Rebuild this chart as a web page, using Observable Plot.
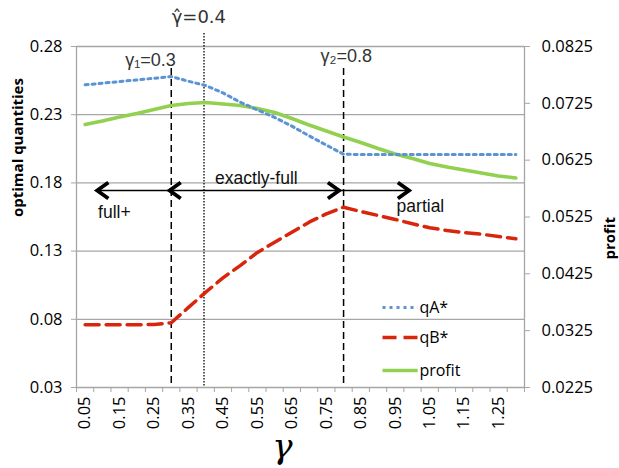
<!DOCTYPE html>
<html><head><meta charset="utf-8">
<script src="https://cdn.jsdelivr.net/npm/d3@7"></script>
<script src="https://cdn.jsdelivr.net/npm/@observablehq/plot@0.6"></script>
<style>
body{margin:0;background:#fff}
#chart{position:relative;width:619px;height:468px}
</style>
</head><body><div id="chart"></div>
<script>
// ---- data ----
const gammas = [0.05,0.10,0.15,0.20,0.25,0.30,0.35,0.40,0.45,0.50,0.55,0.60,0.65,0.70,0.75,0.80,0.85,0.90,0.95,1.00,1.05,1.10,1.15,1.20,1.25,1.30];
const qA = [0.2519,0.2531,0.2543,0.2555,0.2567,0.2580,0.2545,0.2514,0.2460,0.2392,0.2335,0.2280,0.2216,0.2145,0.2077,0.2010,0.2008,0.2008,0.2008,0.2008,0.2008,0.2008,0.2008,0.2008,0.2008,0.2008];
const qB = [0.0760,0.0760,0.0760,0.0760,0.0762,0.0775,0.0887,0.0999,0.1104,0.1194,0.1290,0.1365,0.1439,0.1512,0.1573,0.1622,0.1590,0.1561,0.1532,0.1500,0.1471,0.1451,0.1436,0.1424,0.1407,0.1390];
const profit = [0.06877,0.06939,0.07009,0.07071,0.07141,0.07212,0.07247,0.07265,0.07238,0.07212,0.07159,0.07089,0.06983,0.06869,0.06763,0.06658,0.06561,0.06455,0.06358,0.06279,0.06191,0.06130,0.06077,0.06024,0.05971,0.05936];
const leftTicks = [0.03,0.08,0.13,0.18,0.23,0.28];
const rightTicks = [0.0225,0.0325,0.0425,0.0525,0.0625,0.0725,0.0825];
const xLabels = [0.05,0.15,0.25,0.35,0.45,0.55,0.65,0.75,0.85,0.95,1.05,1.15,1.25];
const xBounds = [0.025,0.075,0.125,0.175,0.225,0.275,0.325,0.375,0.425,0.475,0.525,0.575,0.625,0.675,0.725,0.775,0.825,0.875,0.925,0.975,1.025,1.075,1.125,1.175,1.225,1.275,1.325];
const seriesNames = ["qA*","qB*","profit"];
const thresholds = [0.3, 0.8];
const thresholdLabels = ["γ₁=0.3","γ₂=0.8"];
const hatGamma = 0.395;
const hatLabel = "γ̂=0.4";
const regimeNames = ["full+","exactly-full","partial"];
const regimeCenters = [0.135, 0.547, 1.023];
const regimeY = [0.1583, 0.1832, 0.1627];
const arrowSpan = [0.085, 0.99];
const arrowY = 0.1744;

// ---- scales helpers ----
const yDom = [0.03, 0.28];
const pDom = [0.0225, 0.0825];
const toY = p => yDom[0] + (p - pDom[0]) * (yDom[1]-yDom[0]) / (pDom[1]-pDom[0]);
const fromY = y => pDom[0] + (y - yDom[0]) * (pDom[1]-pDom[0]) / (yDom[1]-yDom[0]);

const colors = {"qA*":"#5b93d3","qB*":"#d8250c","profit":"#92d050"};
const rows = s => gammas.map((g,i)=>({gamma:g, v: s==="qA*"?qA[i]: s==="qB*"?qB[i]: toY(profit[i])}));

const gray = "#a6a6a6";
const chevron = {draw(ctx, size){ const r = Math.sqrt(size/Math.PI); ctx.moveTo(-r*1.4,-r); ctx.lineTo(0,0); ctx.lineTo(-r*1.4,r);} };

const heads = [
  {gamma: arrowSpan[0], angle:180},
  {gamma: 0.295, angle:180},
  {gamma: 0.787, angle:0},
  {gamma: arrowSpan[1], angle:0}
];

const legendY = [0.0886, 0.0667, 0.0425];
const legend = seriesNames.map((s,i)=>({name:s, y:legendY[i]}));

const font = "'Open Sans', 'Noto Sans', sans-serif";
const arial = "'Liberation Sans', Arial, sans-serif";

const chart = Plot.plot({
  width: 619, height: 468,
  marginLeft: 76, marginRight: 95, marginTop: 46, marginBottom: 81,
  style: {fontFamily: font, fontSize: "16px", background:"#fff", color:"#000"},
  x: {domain: [0.025, 1.325], axis: null},
  y: {domain: yDom, axis: null},
  marks: [
    // gridlines
    Plot.ruleY(leftTicks, {stroke: gray, strokeWidth: 1.3}),
    Plot.ruleX([0.025, 1.325], {stroke: gray, strokeWidth: 1.3}),
    // left axis
    Plot.axisY({ticks: leftTicks, tickSize: 5, stroke: gray, text: null, label: null}),
    Plot.axisY({ticks: leftTicks, tickSize: 0, tickPadding: 14, tickFormat: d3.format(".2f"), fontSize: 16.5, fill:"#000", label: null}),
    // right axis
    Plot.axisY({anchor:"right", ticks: rightTicks.map(toY), tickSize: 5, stroke: gray, text: null, label: null}),
    Plot.axisY({anchor:"right", ticks: rightTicks.map(toY), tickSize: 0, tickPadding: 17, tickFormat: d => d3.format(".4f")(fromY(d)), fontSize: 16.5, fill:"#000", label: null}),
    // x axis
    Plot.axisX({ticks: xBounds, tickSize: 5, stroke: gray, text: null, label: null}),
    Plot.axisX({ticks: xLabels, tickSize: 0, tickPadding: 9, tickRotate: -90, tickFormat: d3.format(".2f"), fontSize: 16.5, fill:"#000", label: null}),
    // axis titles
    Plot.text(["optimal quantities"], {frameAnchor: "left", dx: -58, rotate: -90, fontWeight: "bold", fontSize: 15}),
    Plot.text(["profit"], {frameAnchor: "right", dx: 86, rotate: -90, fontWeight: "bold", fontSize: 15}),
    Plot.text(["γ"], {frameAnchor: "bottom", dx: -18, dy: 70, fontSize: 34, fontStyle: "italic", fontFamily: "'DejaVu Serif', serif"}),
    // threshold lines
    Plot.ruleX(thresholds, {y1: 0.2639, y2: 0.03, stroke: "#000", strokeWidth: 1.5, strokeDasharray: "7,4"}),
    Plot.ruleX([hatGamma], {y1: 0.2895, y2: 0.03, stroke: "#000", strokeWidth: 1.3, strokeDasharray: "1.5,1.5"}),
    Plot.text(thresholdLabels, {x: (d,i)=>[0.2398,0.808][i], y: (d,i)=>[0.2697,0.2727][i], fontSize: 18, fill: "#333", fontFamily: arial}),
    Plot.text([hatLabel], {x: 0.38, y: 0.3013, fontSize: 18, fill: "#333", fontFamily: "'DejaVu Sans', sans-serif"}),
    // series
    Plot.line(rows("profit"), {x:"gamma", y:"v", stroke: colors.profit, strokeWidth: 3.5}),
    Plot.line(rows("qA*"), {x:"gamma", y:"v", stroke: colors["qA*"], strokeWidth: 3, strokeDasharray: "3,4"}),
    Plot.line(rows("qB*"), {x:"gamma", y:"v", stroke: colors["qB*"], strokeWidth: 3.5, strokeDasharray: "14,7"}),
    // regime arrows
    Plot.link([arrowSpan], {x1: d=>d[0], x2: d=>d[1], y1: arrowY, y2: arrowY, stroke:"#000", strokeWidth: 1.5}),
    Plot.dot(heads, {x:"gamma", y: arrowY, symbol: chevron, r: 8, rotate:"angle", fill:"none", stroke:"#000", strokeWidth: 3.8, strokeLinejoin:"miter"}),
    Plot.text(regimeNames, {x: (d,i)=>regimeCenters[i], y: (d,i)=>regimeY[i], fontSize: 17.5, fill:"#111", fontFamily: arial}),
    // legend
    Plot.link(legend.filter(d=>d.name==="qA*"), {x1: 0.913, x2: 1.015, y1:"y", y2:"y", stroke: colors["qA*"], strokeWidth: 3, strokeDasharray:"3,4"}),
    Plot.link(legend.filter(d=>d.name==="qB*"), {x1: 0.913, x2: 1.015, y1:"y", y2:"y", stroke: colors["qB*"], strokeWidth: 3.5, strokeDasharray:"14,7"}),
    Plot.link(legend.filter(d=>d.name==="profit"), {x1: 0.913, x2: 1.015, y1:"y", y2:"y", stroke: colors.profit, strokeWidth: 3.5}),
    Plot.text(legend, {x: 1.02, y: "y", text: "name", textAnchor: "start", fontSize: 16})
  ]
});
document.getElementById("chart").appendChild(chart);
</script>
</body></html>
